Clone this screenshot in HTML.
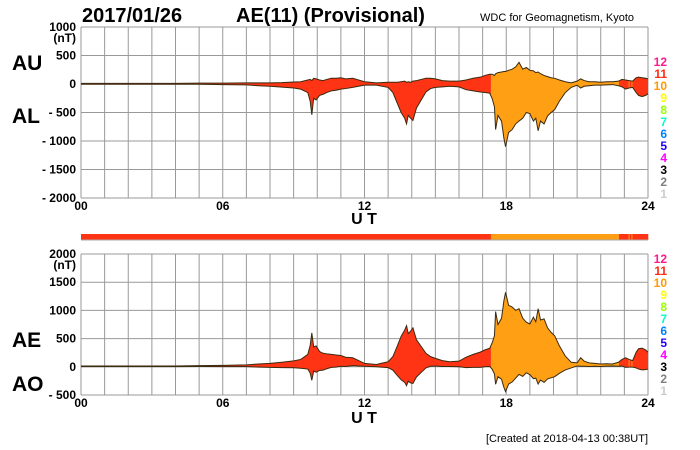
<!DOCTYPE html>
<html><head><meta charset="utf-8"><style>
body{margin:0;background:#fff;}
svg{display:block;font-family:"Liberation Sans",sans-serif;font-weight:bold;}
</style></head><body>
<svg id="c" width="700" height="450" viewBox="0 0 700 450">
<text x="82" y="22" font-size="20">2017/01/26</text>
<text x="236" y="22" font-size="20">AE(11) (Provisional)</text>
<text x="480" y="21" font-size="11" font-weight="normal">WDC for Geomagnetism, Kyoto</text>
<text x="12" y="70" font-size="21">AU</text>
<text x="12" y="123" font-size="21">AL</text>
<text x="12" y="347" font-size="21">AE</text>
<text x="12" y="391" font-size="21">AO</text>
<text x="364" y="224" font-size="16" text-anchor="middle">U T</text>
<text x="364" y="423" font-size="16" text-anchor="middle">U T</text>
<text x="648" y="442" font-size="11" font-weight="normal" text-anchor="end">[Created at 2018-04-13 00:38UT]</text>
<g id="layer"></g>
</svg>
<script>
const hours = [0,1,2,3,4,5,6,7,7.5,8,8.5,9,9.3,9.6,9.7,9.77,9.85,9.95,10.1,10.25,10.4,10.6,10.8,11,11.2,11.5,11.75,12,12.5,13,13.2,13.4,13.55,13.7,13.78,13.85,13.95,14.05,14.2,14.4,14.6,14.8,15,15.3,15.6,16,16.3,16.6,16.9,17.1,17.3,17.4,17.5,17.55,17.65,17.8,17.9,17.97,18.1,18.25,18.4,18.54,18.7,18.85,19,19.15,19.25,19.35,19.45,19.6,19.75,19.9,20.05,20.25,20.5,20.75,21,21.15,21.3,21.5,21.75,22,22.25,22.5,22.75,22.9,23.05,23.2,23.35,23.5,23.6,23.75,23.9,24];
const auValues = [10,10,10,10,10,15,15,20,20,20,25,35,40,70,80,60,100,90,70,60,80,100,100,110,90,100,70,40,20,30,30,30,40,50,30,40,30,50,60,80,100,100,90,60,50,50,70,100,120,150,170,170,150,180,200,210,220,220,240,260,300,380,260,290,240,230,200,210,180,150,130,110,100,70,40,20,50,90,60,40,40,30,40,40,50,80,70,60,50,110,120,110,100,90];
const alValues = [-5,-5,-5,-5,-5,-5,-10,-15,-30,-40,-55,-70,-90,-150,-300,-540,-250,-280,-200,-180,-150,-120,-110,-90,-80,-60,-40,-20,-20,-60,-150,-350,-500,-600,-700,-550,-600,-640,-420,-280,-140,-80,-60,-50,-40,-50,-100,-120,-140,-150,-160,-250,-400,-800,-550,-650,-950,-1100,-850,-800,-700,-650,-600,-500,-520,-650,-600,-820,-650,-700,-560,-500,-450,-300,-150,-60,-20,-70,-40,-30,-20,-20,-15,-10,-30,-50,-90,-70,-60,-150,-200,-220,-200,-170];
const segStart = [0,17.35,22.77,23.18,23.22,23.3,23.34];
const segEnd = [17.35,22.77,23.18,23.22,23.3,23.34,24];
const segStations = [11,10,11,10,11,10,11];
const topTicks = [1000,500,0,-500,-1000,-1500,-2000];
const topTickLabels = ["1000","500","0","- 500","- 1000","- 1500","- 2000"];
const botTicks = [2000,1500,1000,500,0,-500];
const botTickLabels = ["2000","1500","1000","500","0","- 500"];
const xTickHours = [0,6,12,18,24];
const xTickLabels = ["00","06","12","18","24"];
const legendNums = [12,11,10,9,8,7,6,5,4,3,2,1];
const legendColors = ["#ff1a8c","#ff2a10","#ff9a00","#ffff00","#99ff00","#00ffcc","#0080ff","#2000ff","#ff00ff","#000000","#808080","#cccccc"];
const stationColor = {11:"#ff3414",10:"#ffa014"};

const NS="http://www.w3.org/2000/svg";
const layer=document.getElementById('layer');
const X0=81,X1=648;
const xs=h=>X0+(X1-X0)*h/24;
const yTop=v=>27+(1000-v)*171/3000;
const yBot=v=>254+(2000-v)*141/2500;
function mk(tag,attrs,parent){const e=document.createElementNS(NS,tag);for(const k in attrs)e.setAttribute(k,attrs[k]);(parent||layer).appendChild(e);return e;}

const aeValues=auValues.map((u,i)=>u-alValues[i]);
const aoValues=auValues.map((u,i)=>(u+alValues[i])/2);

function panel(name,ys,ticks,labels,top,bot,upper,lower,legendY){
  const g=mk('g',{});
  
  
  for(let h=0;h<=24;h++){
    const l=mk('line',{x1:xs(h),x2:xs(h),y1:top,y2:bot,stroke:'#999','stroke-width':1},g);
    
    
  }
  ticks.forEach((v,i)=>{
    const l=mk('line',{x1:X0,x2:X1,y1:ys(v),y2:ys(v),stroke:'#999','stroke-width':1},g);
    
    
    const t=mk('text',{x:76,y:ys(v)+4,'font-size':12,'text-anchor':'end'},g);
    t.textContent=labels[i];
    
    
  });
  const nt=mk('text',{x:76,y:ys(ticks[0])+15,'font-size':12,'text-anchor':'end'},g);
  nt.textContent='(nT)';
  
  
  xTickHours.forEach((h,i)=>{
    const t=mk('text',{x:xs(h),y:bot+12,'font-size':12,'text-anchor':'middle'},g);
    t.textContent=xTickLabels[i];
    
    
  });
  let d='M'+hours.map((h,i)=>xs(h)+','+ys(upper[i])).join(' L');
  d+=' L'+hours.map((h,i)=>xs(h)+','+ys(lower[i])).reverse().join(' L')+' Z';
  segStart.forEach((s,i)=>{
    const cid=name+'clip'+i;
    const cp=mk('clipPath',{id:cid},g);
    mk('rect',{x:xs(s),y:0,width:xs(segEnd[i])-xs(s)+0.5,height:450},cp);
    const p=mk('path',{d:d,fill:stationColor[segStations[i]],'clip-path':'url(#'+cid+')'},g);
    
    
  });
  const up=mk('polyline',{points:hours.map((h,i)=>xs(h)+','+ys(upper[i])).join(' '),fill:'none',stroke:'#3a2a10','stroke-width':1},g);
  
  
  const lo=mk('polyline',{points:hours.map((h,i)=>xs(h)+','+ys(lower[i])).join(' '),fill:'none',stroke:'#3a2a10','stroke-width':1},g);
  
  
  legendNums.forEach((n,i)=>{
    const t=mk('text',{x:667,y:legendY+i*12,'font-size':12,'text-anchor':'end',fill:legendColors[i]},g);
    t.textContent=n;
    
    
  });
}
panel('au-al',yTop,topTicks,topTickLabels,27,198,auValues,alValues,66);
panel('ae-ao',yBot,botTicks,botTickLabels,254,395,aeValues,aoValues,263);

segStart.forEach((s,i)=>{
  const r=mk('rect',{x:xs(s),y:234,width:xs(segEnd[i])-xs(s)+0.3,height:6,fill:stationColor[segStations[i]]});
  
  
});
const bl=mk('line',{x1:X0,x2:X1,y1:240,y2:240,stroke:'#aaa','stroke-width':1});


</script>
</body></html>
